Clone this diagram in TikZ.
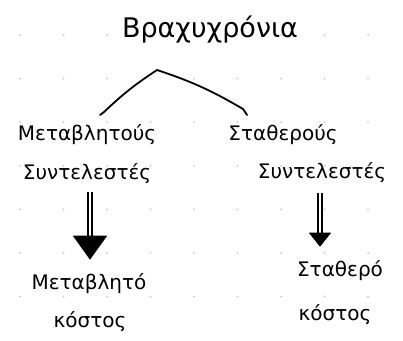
\documentclass[tikz,border=0pt]{standalone}
\usepackage{fontspec}
\setmainfont{DejaVu Sans}
\usetikzlibrary{arrows.meta}
\definecolor{griddot}{HTML}{C8C8C8}
\tikzset{
  lbl/.style={inner sep=0pt, font=\fontsize{20}{24}\selectfont},
  ttl/.style={inner sep=0pt, font=\fontsize{27}{30}\selectfont},
  branch/.style={line width=1.8pt, line cap=round},
  dbl/.style={double, double distance=2.2pt, line width=1.8pt},
}
\begin{document}
\begin{tikzpicture}[x=1pt,y=-1pt]
\useasboundingbox (0,0) rectangle (403,340);
\fill[white] (0,0) rectangle (403,340);
% dot grid
\foreach \i in {0,...,8}{
  \foreach \j in {0,...,6}{
    \fill[griddot] ({20+43.5*\i},{35+43.6*\j}) circle (1pt);
  }
}
% title
\node[ttl] (title) at (210,30) {Βραχυχρόνια};
\coordinate (peak) at (157,70);
\coordinate (lend) at (100,115);
\coordinate (rend) at (247,115);
\draw[branch] (lend) -- (104,112) to[bend left=5] (peak);
\draw[branch] (peak) to[bend left=6] (243,109) -- (rend);
% left column
\node[lbl] (mv1) at (87,135) {Μεταβλητούς};
\node[lbl] (mv2) at (87,174) {Συντελεστές};
% right column
\node[lbl] (st1) at (283,135) {Σταθερούς};
\node[lbl] (st2) at (322,173) {Συντελεστές};
% costs
\node[lbl] (mc1) at (89,284) {Μεταβλητό};
\node[lbl] (mc2) at (90,322) {κόστος};
\node[lbl] (sc1) at (340,271) {Σταθερό};
\node[lbl] (sc2) at (335,315) {κόστος};
% arrows
\draw[dbl, -{Triangle[width=34pt,length=24pt]}, shorten <=8pt, shorten >=14pt]
  ([xshift=3pt]mv2.south) -- ([xshift=3pt]mv2.south |- mc1.north);
\draw[dbl, -{Triangle[width=22pt,length=14pt]}, shorten <=10pt, shorten >=14pt]
  (st2.south -| 320,0) -- (320,0 |- sc1.north);
\end{tikzpicture}
\end{document}
